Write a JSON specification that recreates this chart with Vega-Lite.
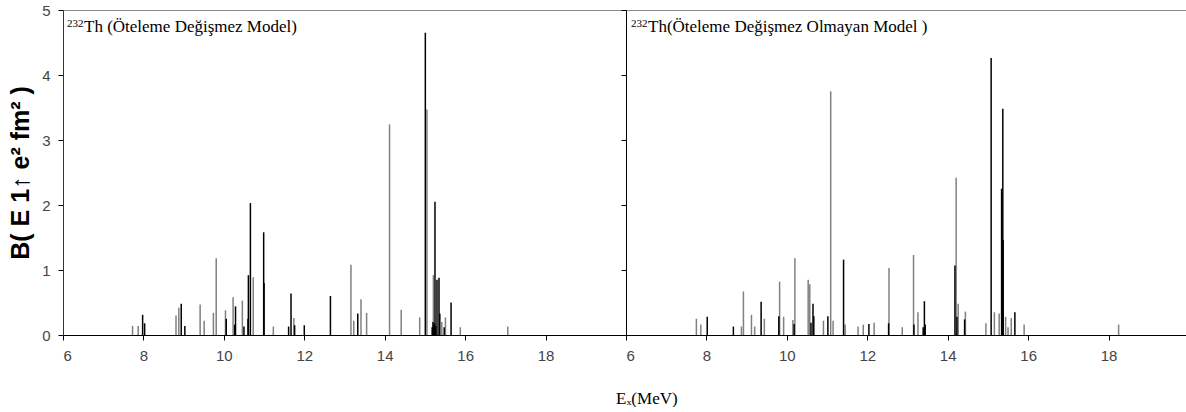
{
  "$schema": "https://vega.github.io/schema/vega-lite/v6.json",
  "background": "white",
  "padding": {"left": 8, "top": 2, "right": 0, "bottom": 0},
  "bounds": "flush",
  "spacing": 0,
  "title": {"text": "Eₓ(MeV)", "orient": "bottom", "anchor": "middle", "font": "Liberation Serif", "fontSize": 17, "fontWeight": "normal", "color": "#000", "dx": 48, "offset": 27},
  "datasets": {
    "inv": [
      {"E": 7.73, "B": 0.14, "c": "gray"}, {"E": 7.87, "B": 0.14, "c": "gray"}, {"E": 8.81, "B": 0.30, "c": "gray"},
      {"E": 8.88, "B": 0.42, "c": "gray"}, {"E": 9.41, "B": 0.47, "c": "gray"}, {"E": 9.51, "B": 0.22, "c": "gray"},
      {"E": 9.74, "B": 0.34, "c": "gray"}, {"E": 9.81, "B": 1.18, "c": "gray"}, {"E": 10.04, "B": 0.38, "c": "gray"},
      {"E": 10.23, "B": 0.58, "c": "gray"}, {"E": 10.46, "B": 0.53, "c": "gray"}, {"E": 10.73, "B": 0.89, "c": "gray"},
      {"E": 11.23, "B": 0.13, "c": "gray"}, {"E": 11.74, "B": 0.26, "c": "gray"}, {"E": 13.16, "B": 1.08, "c": "gray"},
      {"E": 13.23, "B": 0.22, "c": "gray"}, {"E": 13.41, "B": 0.55, "c": "gray"}, {"E": 13.55, "B": 0.34, "c": "gray"},
      {"E": 14.12, "B": 3.24, "c": "gray"}, {"E": 14.41, "B": 0.39, "c": "gray"}, {"E": 14.87, "B": 0.27, "c": "gray"},
      {"E": 15.05, "B": 3.47, "c": "gray"}, {"E": 15.21, "B": 0.92, "c": "gray"}, {"E": 15.42, "B": 0.20, "c": "gray"},
      {"E": 15.51, "B": 0.27, "c": "gray"}, {"E": 15.88, "B": 0.12, "c": "gray"}, {"E": 17.06, "B": 0.13, "c": "gray"},
      {"E": 7.98, "B": 0.31, "c": "black"}, {"E": 8.03, "B": 0.18, "c": "black"}, {"E": 8.94, "B": 0.48, "c": "black"},
      {"E": 9.03, "B": 0.14, "c": "black"}, {"E": 10.06, "B": 0.25, "c": "black"}, {"E": 10.27, "B": 0.16, "c": "black"},
      {"E": 10.29, "B": 0.44, "c": "black"}, {"E": 10.50, "B": 0.13, "c": "black"}, {"E": 10.60, "B": 0.25, "c": "black"},
      {"E": 10.61, "B": 0.92, "c": "black"}, {"E": 10.66, "B": 2.03, "c": "black"}, {"E": 10.99, "B": 1.58, "c": "black"},
      {"E": 11.00, "B": 0.80, "c": "black"}, {"E": 11.61, "B": 0.13, "c": "black"}, {"E": 11.67, "B": 0.64, "c": "black"},
      {"E": 11.76, "B": 0.15, "c": "black"}, {"E": 12.00, "B": 0.15, "c": "black"}, {"E": 12.65, "B": 0.60, "c": "black"},
      {"E": 13.33, "B": 0.33, "c": "black"}, {"E": 15.01, "B": 4.65, "c": "black"}, {"E": 15.18, "B": 0.12, "c": "black"},
      {"E": 15.20, "B": 0.20, "c": "black"}, {"E": 15.22, "B": 0.15, "c": "black"}, {"E": 15.24, "B": 0.18, "c": "black"},
      {"E": 15.25, "B": 2.05, "c": "black"}, {"E": 15.27, "B": 0.14, "c": "black"}, {"E": 15.30, "B": 0.85, "c": "black"},
      {"E": 15.35, "B": 0.88, "c": "black"}, {"E": 15.37, "B": 0.33, "c": "black"}, {"E": 15.48, "B": 0.12, "c": "black"},
      {"E": 15.65, "B": 0.50, "c": "black"}
    ],
    "noninv": [
      {"E": 7.75, "B": 0.25, "c": "gray"}, {"E": 7.86, "B": 0.16, "c": "gray"}, {"E": 8.87, "B": 0.13, "c": "gray"},
      {"E": 8.92, "B": 0.67, "c": "gray"}, {"E": 9.12, "B": 0.31, "c": "gray"}, {"E": 9.20, "B": 0.13, "c": "gray"},
      {"E": 9.44, "B": 0.25, "c": "gray"}, {"E": 9.82, "B": 0.82, "c": "gray"}, {"E": 9.92, "B": 0.28, "c": "gray"},
      {"E": 10.15, "B": 0.23, "c": "gray"}, {"E": 10.20, "B": 1.18, "c": "gray"}, {"E": 10.53, "B": 0.85, "c": "gray"},
      {"E": 10.57, "B": 0.78, "c": "gray"}, {"E": 10.91, "B": 0.22, "c": "gray"}, {"E": 11.09, "B": 3.75, "c": "gray"},
      {"E": 11.15, "B": 0.22, "c": "gray"}, {"E": 11.45, "B": 0.16, "c": "gray"}, {"E": 11.77, "B": 0.13, "c": "gray"},
      {"E": 11.90, "B": 0.16, "c": "gray"}, {"E": 12.17, "B": 0.19, "c": "gray"}, {"E": 12.54, "B": 1.03, "c": "gray"},
      {"E": 12.87, "B": 0.12, "c": "gray"}, {"E": 13.15, "B": 1.23, "c": "gray"}, {"E": 13.26, "B": 0.35, "c": "gray"},
      {"E": 14.21, "B": 2.42, "c": "gray"}, {"E": 14.26, "B": 0.48, "c": "gray"}, {"E": 14.44, "B": 0.36, "c": "gray"},
      {"E": 14.95, "B": 0.18, "c": "gray"}, {"E": 15.16, "B": 0.35, "c": "gray"}, {"E": 15.28, "B": 0.33, "c": "gray"},
      {"E": 15.44, "B": 0.28, "c": "gray"}, {"E": 15.50, "B": 0.12, "c": "gray"}, {"E": 15.58, "B": 0.26, "c": "gray"},
      {"E": 15.90, "B": 0.16, "c": "gray"}, {"E": 18.25, "B": 0.16, "c": "gray"},
      {"E": 8.02, "B": 0.28, "c": "black"}, {"E": 8.67, "B": 0.13, "c": "black"}, {"E": 9.36, "B": 0.51, "c": "black"},
      {"E": 9.80, "B": 0.29, "c": "black"}, {"E": 10.18, "B": 0.17, "c": "black"}, {"E": 10.60, "B": 0.19, "c": "black"},
      {"E": 10.65, "B": 0.48, "c": "black"}, {"E": 10.67, "B": 0.29, "c": "black"}, {"E": 11.02, "B": 0.29, "c": "black"},
      {"E": 11.41, "B": 1.16, "c": "black"}, {"E": 12.04, "B": 0.17, "c": "black"}, {"E": 12.53, "B": 0.18, "c": "black"},
      {"E": 13.16, "B": 0.16, "c": "black"}, {"E": 13.39, "B": 0.12, "c": "black"}, {"E": 13.42, "B": 0.52, "c": "black"},
      {"E": 13.44, "B": 0.16, "c": "black"}, {"E": 14.18, "B": 1.07, "c": "black"}, {"E": 14.23, "B": 0.28, "c": "black"},
      {"E": 14.42, "B": 0.24, "c": "black"}, {"E": 15.08, "B": 4.26, "c": "black"}, {"E": 15.34, "B": 2.25, "c": "black"},
      {"E": 15.37, "B": 3.48, "c": "black"}, {"E": 15.38, "B": 1.46, "c": "black"}, {"E": 15.67, "B": 0.35, "c": "black"}
    ]
  },
  "hconcat": [
    {
      "width": 563,
      "height": 325,
      "layer": [
        {
          "data": {"name": "inv"},
          "mark": {"type": "rule", "strokeWidth": 1.5},
          "encoding": {
            "x": {"field": "E", "type": "quantitative", "scale": {"domain": [6, 20], "nice": false, "zero": false},
                  "axis": {"values": [6, 8, 10, 12, 14, 16, 18], "title": null}},
            "y": {"field": "B", "type": "quantitative", "scale": {"domain": [0, 5], "nice": false},
                  "axis": {"values": [0, 1, 2, 3, 4, 5], "format": "d", "title": "B( E 1↑ e² fm² )", "titleFont": "Liberation Sans", "titleFontSize": 25, "titleFontWeight": "bold", "titleColor": "#000", "titlePadding": 8, "domainColor": "#333"}},
            "y2": {"datum": 0},
            "color": {"field": "c", "type": "nominal", "scale": {"domain": ["gray", "black"], "range": ["#808080", "#000000"]}, "legend": null}
          }
        },
        {
          "data": {"values": [{"t": "232"}]},
          "mark": {"type": "text", "font": "Liberation Serif", "fontSize": 11, "align": "left", "baseline": "alphabetic", "dx": 4, "dy": 17, "color": "#000"},
          "encoding": {"x": {"datum": 6}, "y": {"datum": 5}, "text": {"field": "t"}}
        },
        {
          "data": {"values": [{"t": "Th (Öteleme Değişmez Model)"}]},
          "mark": {"type": "text", "font": "Liberation Serif", "fontSize": 17, "align": "left", "baseline": "alphabetic", "dx": 21, "dy": 22, "color": "#000"},
          "encoding": {"x": {"datum": 6}, "y": {"datum": 5}, "text": {"field": "t"}}
        }
      ]
    },
    {
      "width": 563,
      "height": 325,
      "layer": [
        {
          "data": {"name": "noninv"},
          "mark": {"type": "rule", "strokeWidth": 1.5},
          "encoding": {
            "x": {"field": "E", "type": "quantitative", "scale": {"domain": [6, 20], "nice": false, "zero": false},
                  "axis": {"values": [6, 8, 10, 12, 14, 16, 18], "title": null}},
            "y": {"field": "B", "type": "quantitative", "scale": {"domain": [0, 5], "nice": false},
                  "axis": {"values": [0, 1, 2, 3, 4, 5], "labels": false, "title": null, "domainColor": "#000", "tickColor": "#000"}},
            "y2": {"datum": 0},
            "color": {"field": "c", "type": "nominal", "scale": {"domain": ["gray", "black"], "range": ["#808080", "#000000"]}, "legend": null}
          }
        },
        {
          "data": {"values": [{"t": "232"}]},
          "mark": {"type": "text", "font": "Liberation Serif", "fontSize": 11, "align": "left", "baseline": "alphabetic", "dx": 5, "dy": 17, "color": "#000"},
          "encoding": {"x": {"datum": 6}, "y": {"datum": 5}, "text": {"field": "t"}}
        },
        {
          "data": {"values": [{"t": "Th(Öteleme Değişmez Olmayan Model )"}]},
          "mark": {"type": "text", "font": "Liberation Serif", "fontSize": 17, "align": "left", "baseline": "alphabetic", "dx": 22, "dy": 22, "color": "#000"},
          "encoding": {"x": {"datum": 6}, "y": {"datum": 5}, "text": {"field": "t"}}
        }
      ]
    }
  ],
  "resolve": {"scale": {"y": "independent", "x": "independent"}},
  "config": {
    "view": {"stroke": "#888888", "strokeWidth": 1},
    "axis": {
      "grid": false,
      "labelFont": "Liberation Sans",
      "labelFontSize": 15,
      "labelColor": "#444444",
      "tickSize": 5,
      "tickColor": "#000",
      "domainColor": "#000",
      "labelPadding": 8
    },
    "axisY": {"labelPadding": 8}
  }
}
